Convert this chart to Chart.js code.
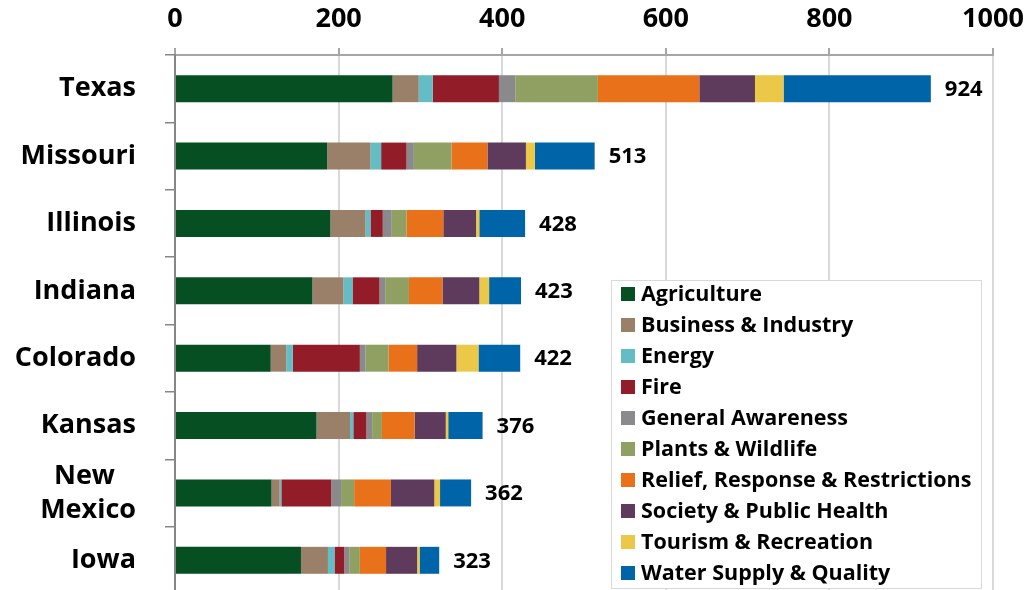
<!DOCTYPE html>
<html>
<head>
<meta charset="utf-8">
<script src="https://cdn.jsdelivr.net/npm/chart.js@4.4.0/dist/chart.umd.min.js"></script>
<style>
  html, body { margin: 0; padding: 0; background: #ffffff; overflow: hidden; }
  #wrap { position: relative; width: 1027px; height: 594px; }
</style>
</head>
<body>
<div id="wrap"><canvas id="chart"></canvas></div>
<script>
// States, top to bottom
const categories = ['Texas', 'Missouri', 'Illinois', 'Indiana', 'Colorado', 'Kansas', ['New\u00a0\u00a0\u00a0', 'Mexico'], 'Iowa'];

// Impact counts per category, one array per series (same state order)
const agriculture = [266, 186, 190, 168, 117, 173, 118, 154];
const businessIndustry = [32, 53, 43, 38, 19, 41, 10, 33];
const energy = [17, 13, 6, 11, 8, 4, 2, 8];
const fire = [81, 31, 15, 33, 82, 16, 61, 12];
const generalAwareness = [20, 9, 11, 7, 7, 7, 12, 6];
const plantsWildlife = [101, 46, 18, 29, 28, 12, 16, 13];
const reliefResponse = [124, 44, 45, 41, 35, 40, 45, 32];
const societyHealth = [68, 47, 40, 45, 48, 38, 53, 38];
const tourismRecreation = [35, 11, 4, 12, 27, 3, 7, 3];
const waterSupply = [180, 73, 56, 39, 51, 42, 38, 24];

const seriesNames = ['Agriculture', 'Business & Industry', 'Energy', 'Fire', 'General Awareness',
  'Plants & Wildlife', 'Relief, Response & Restrictions', 'Society & Public Health',
  'Tourism & Recreation', 'Water Supply & Quality'];
const seriesValues = [agriculture, businessIndustry, energy, fire, generalAwareness,
  plantsWildlife, reliefResponse, societyHealth, tourismRecreation, waterSupply];
const seriesColors = ['#064F22', '#9A8068', '#62BDC5', '#921C28', '#8A8A8C',
  '#90A062', '#E8711A', '#5E3A5C', '#EBC847', '#0064A8'];

// Value axis ticks
const axisTicks = [0, 200, 400, 600, 800, 1000];

const FONT = "'Open Sans', 'DejaVu Sans', sans-serif";

// Writes each state's total just past the end of its stacked bar
const totalsPlugin = {
  id: 'totals',
  afterDatasetsDraw(chart) {
    const ctx = chart.ctx;
    const lastMeta = chart.getDatasetMeta(chart.data.datasets.length - 1);
    ctx.save();
    ctx.font = 'bold 22px ' + FONT;
    ctx.fillStyle = '#000';
    ctx.textAlign = 'left';
    ctx.textBaseline = 'middle';
    lastMeta.data.forEach((bar, i) => {
      const total = seriesValues.reduce((s, arr) => s + arr[i], 0);
      ctx.fillText(String(total), bar.x + 14, bar.y + 1);
    });
    ctx.restore();
  }
};

// Boxed legend in the lower right of the plot
const boxLegendPlugin = {
  id: 'boxLegend',
  afterDraw(chart) {
    const ctx = chart.ctx;
    const left = 611, top = 280, right = 982, bottom = 589;
    ctx.save();
    ctx.fillStyle = '#ffffff';
    ctx.fillRect(left, top, right - left, bottom - top);
    ctx.strokeStyle = '#D9D9D9';
    ctx.lineWidth = 1;
    ctx.strokeRect(left + 0.5, top + 0.5, right - left - 1, bottom - top - 1);
    ctx.font = 'bold 21.5px ' + FONT;
    ctx.textAlign = 'left';
    ctx.textBaseline = 'middle';
    chart.data.datasets.forEach((ds, i) => {
      const y = 294 + i * 31;
      ctx.fillStyle = ds.backgroundColor;
      ctx.fillRect(621, y - 7, 14, 14);
      ctx.fillStyle = '#000';
      ctx.fillText(ds.label, 641, y + 1);
    });
    ctx.restore();
  }
};

new Chart(document.getElementById('chart'), {
  type: 'bar',
  data: {
    labels: categories,
    datasets: seriesNames.map((name, i) => ({
      label: name,
      data: seriesValues[i],
      backgroundColor: seriesColors[i],
      borderWidth: 0,
      barPercentage: 0.4,
      categoryPercentage: 1
    }))
  },
  options: {
    indexAxis: 'y',
    responsive: true,
    maintainAspectRatio: false,
    animation: false,
    layout: { padding: { top: 0, right: 34, bottom: 0, left: 0 } },
    plugins: { legend: { display: false }, tooltip: { enabled: false } },
    scales: {
      x: {
        position: 'top',
        stacked: true,
        min: axisTicks[0],
        max: axisTicks[axisTicks.length - 1],
        afterBuildTicks(scale) { scale.ticks = axisTicks.map(v => ({ value: v })); },
        afterFit(scale) { scale.height = 55; scale.paddingLeft = 0; scale.paddingRight = 0; },
        ticks: { color: '#000', font: { family: FONT, weight: 'bold', size: 27 }, padding: 12, maxRotation: 0,
                 autoSkip: false, callback: v => String(v) },
        grid: { color: '#D9D9D9', lineWidth: 2, tickLength: 7, tickColor: '#A6A6A6' },
        border: { color: '#A6A6A6', width: 2 }
      },
      y: {
        stacked: true,
        afterFit(scale) { scale.width = 175; scale.paddingTop = 0; scale.paddingBottom = 0; },
        ticks: { color: '#000', font: { family: FONT, weight: 'bold', size: 27, lineHeight: 1.25 }, padding: 29,
                 autoSkip: false },
        grid: { drawOnChartArea: false, offset: true, tickLength: 10, color: '#868686', lineWidth: 1.5 },
        border: { color: '#868686', width: 2 }
      }
    }
  },
  plugins: [totalsPlugin, boxLegendPlugin]
});
</script>
</body>
</html>
